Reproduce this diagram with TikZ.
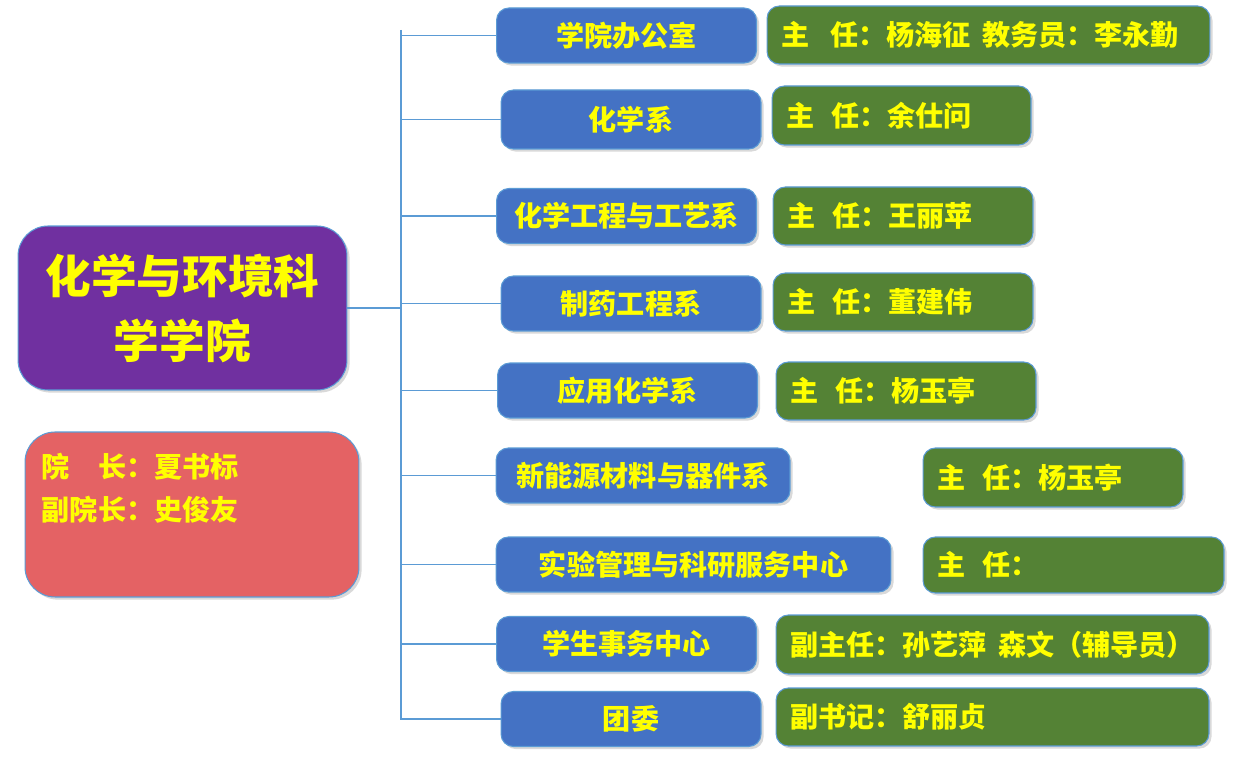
\documentclass[tikz,border=0pt]{standalone}
\usepackage{fontspec}
\setmainfont{Noto Sans CJK SC}
\usetikzlibrary{shadows}
\definecolor{collegepurple}{HTML}{7030A0}
\definecolor{leaderred}{HTML}{E46264}
\definecolor{deptblue}{HTML}{4472C4}
\definecolor{headgreen}{HTML}{548235}
\definecolor{edgeblue}{HTML}{5B9BD5}
\definecolor{labelyellow}{HTML}{FFFF00}

\begin{document}
\begin{tikzpicture}[x=0.02cm,y=-0.02cm,
  box/.style={draw=edgeblue,line width=0.6pt,rounded corners=7pt,text=labelyellow,
    font=\bfseries\fontsize{16}{20}\selectfont,minimum height=1.1cm,
    drop shadow={shadow xshift=1.5pt,shadow yshift=-1.5pt,opacity=0.3}},
  deptbox/.style={box,fill=deptblue,minimum width=5.2cm,align=center},
  headbox/.style={box,fill=headgreen,align=left,inner xsep=0.28cm},
  link/.style={draw=edgeblue,line width=0.8pt}]
\useasboundingbox (0,0) rectangle (1254,759);

% college and leaders
\node[box,fill=collegepurple,rounded corners=0.6cm,minimum width=6.58cm,minimum height=3.28cm,
  align=center,font=\bfseries\fontsize{26}{37}\selectfont] (college) at (182.5,308) {化学与环境科\\学学院};
\node[box,fill=leaderred,rounded corners=0.6cm,minimum width=6.68cm,minimum height=3.3cm] (leaders) at (192,514.5) {};
\node[anchor=north west,inner sep=0pt,text=labelyellow,align=left,
  font=\bfseries\fontsize{16}{24.4}\selectfont] (leadnames) at ([shift={(17,21)}]leaders.north west)
  {院　长：夏书标\\副院长：史俊友};

% departments
\node[deptbox] (office) at (626.5,35.5) {学院办公室};
\node[deptbox,minimum height=1.18cm] (chem) at (631,119.5) {化学系};
\node[deptbox] (chemeng) at (626.5,216) {化学工程与工艺系};
\node[deptbox] (pharm) at (631,303.5) {制药工程系};
\node[deptbox] (appchem) at (627.5,390.5) {应用化学系};
\node[deptbox,minimum width=5.88cm] (energy) at (643,475.5) {新能源材料与器件系};
\node[deptbox,minimum width=7.9cm] (lab) at (693.5,564.5) {实验管理与科研服务中心};
\node[deptbox] (students) at (626.5,644) {学生事务中心};
\node[deptbox] (league) at (631,719) {团委};

% heads
\node[headbox,text width=8.3cm,minimum height=1.16cm] (officehead) at (988.5,35) {主\hspace{0.75em}任：杨海征\hspace{0.4em}教务员：李永勤};
\node[headbox,text width=4.62cm,minimum height=1.18cm] (chemhead) at (901.5,115.5) {主\hspace{0.6em}任：余仕问};
\node[headbox,text width=4.64cm,minimum height=1.16cm] (chemenghead) at (903,216) {主\hspace{0.6em}任：王丽苹};
\node[headbox,text width=4.64cm,minimum height=1.16cm] (pharmhead) at (903,302) {主\hspace{0.6em}任：董建伟};
\node[headbox,text width=4.64cm,minimum height=1.16cm] (appchemhead) at (906,391) {主\hspace{0.6em}任：杨玉亭};
\node[headbox,text width=4.64cm,minimum height=1.18cm] (energyhead) at (1053,477.5) {主\hspace{0.6em}任：杨玉亭};
\node[headbox,text width=5.46cm,minimum height=1.12cm] (labhead) at (1073.5,565) {主\hspace{0.6em}任：};
\node[headbox,text width=8.1cm,minimum height=1.18cm] (studentshead) at (992.5,644.5) {副主任：孙艺萍\hspace{0.4em}森文（辅导员）};
\node[headbox,text width=8.1cm,minimum height=1.16cm] (leaguehead) at (992.5,717) {副书记：舒丽贞};

% tree
\coordinate (trunktop) at (401,30);
\coordinate (trunkbot) at (401,720);
\draw[link] (trunktop) -- (trunkbot);
\draw[link] (college.east) -- (college.east -| trunktop);
\foreach \d in {office,chem,chemeng,pharm,appchem,energy,lab,students,league}
  \draw[link] (\d.west -| trunktop) -- (\d.west);
\end{tikzpicture}
\end{document}
